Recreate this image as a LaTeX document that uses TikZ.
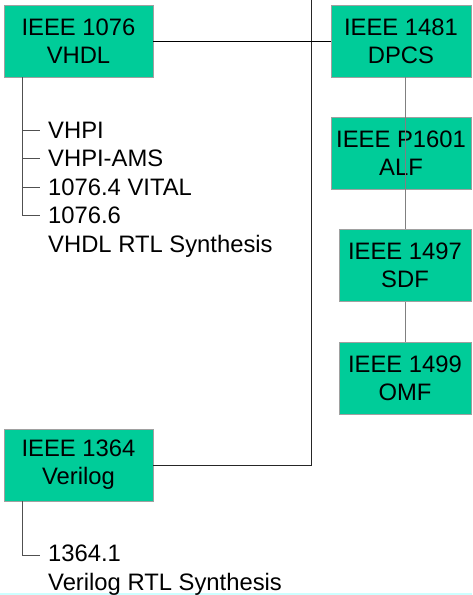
\documentclass[tikz,border=0pt]{standalone}
\usepackage{fontspec}
\setmainfont{Liberation Sans}
\definecolor{boxfill}{HTML}{00CC99}
\definecolor{boxline}{HTML}{A0A0A0}
\definecolor{treeline}{HTML}{505050}
\definecolor{colline}{HTML}{808080}
\definecolor{edgecyan}{HTML}{CCFFFF}
\begin{document}
\begin{tikzpicture}[x=1pt,y=-1pt,
  stdbox/.style={draw=boxline,line width=0.9pt,fill=boxfill,inner sep=0pt,
    minimum height=72pt,align=center,font=\fontsize{23.8}{28}\selectfont},
  item/.style={anchor=base west,inner sep=0pt,align=left,
    font=\fontsize{23.8}{28.5}\selectfont},
  trunkline/.style={line width=0.9pt,color=treeline},
  colconn/.style={line width=0.9pt,color=colline}]
\useasboundingbox (0,0) rectangle (472,595);
\draw[edgecyan,line width=1.5pt] (0,594) -- (472,594);

% boxes
\node[stdbox,minimum width=149pt] (vhdl) at (78.5,41) {IEEE 1076\\VHDL};
\node[stdbox,minimum width=140pt] (dpcs) at (401,41) {IEEE 1481\\DPCS};
\node[stdbox,minimum width=140pt] (alf) at (401,153.5) {IEEE P1601\\ALF};
\node[stdbox,minimum width=132pt] (sdf) at (405,265.5) {IEEE 1497\\SDF};
\node[stdbox,minimum width=132pt] (omf) at (405,378) {IEEE 1499\\OMF};
\node[stdbox,minimum width=149pt] (verilog) at (78.5,465) {IEEE 1364\\Verilog};

% trunk
\coordinate (top) at (311,0);
\draw[line width=0.9pt,color=black!85] (verilog.east) -| (top);
\draw[line width=0.9pt,black] (vhdl.east) -- (dpcs.west);

% right column
\draw[colconn] (dpcs.south -| sdf.north) -- (alf.south -| sdf.north);
\draw[colconn] (alf.south -| sdf.north) -- (sdf.north);
\draw[colconn] (sdf.south) -- (omf.north);

% VHDL items
\node[item] (i1) at (48,138) {VHPI};
\node[item] (i2) at (48,166.5) {VHPI-AMS};
\node[item] (i3) at (48,195) {1076.4 VITAL};
\node[item] (i4) at (48,252) {1076.6\\VHDL RTL Synthesis};
\coordinate (s1) at (40,130);
\coordinate (s2) at (40,158.5);
\coordinate (s3) at (40,187);
\coordinate (s4) at (40,215.5);
\coordinate (vt) at (22,77);
\draw[trunkline] (vt) |- (s4);
\draw[trunkline] (vt |- s1) -- (s1);
\draw[trunkline] (vt |- s2) -- (s2);
\draw[trunkline] (vt |- s3) -- (s3);

% Verilog item
\node[item] (j1) at (48,590) {1364.1\\Verilog RTL Synthesis};
\coordinate (t1) at (40,555);
\coordinate (wt) at (22,501);
\draw[trunkline] (wt) |- (t1);
\end{tikzpicture}
\end{document}
